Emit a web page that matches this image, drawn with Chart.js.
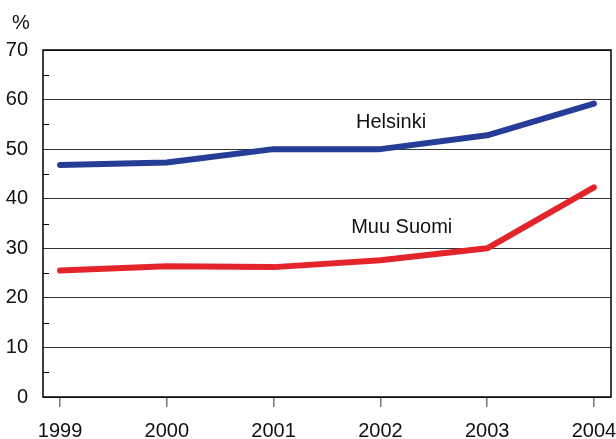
<!DOCTYPE html>
<html>
<head>
<meta charset="utf-8">
<script src="https://cdn.jsdelivr.net/npm/chart.js@4"></script>
<style>
  html, body { margin: 0; padding: 0; background: #fff; }
  #wrap { width: 616px; height: 439px; }
</style>
</head>
<body>
<div id="wrap"><canvas id="chart" width="616" height="439"></canvas></div>
<script>
const years = [1999, 2000, 2001, 2002, 2003, 2004];
const helsinki = [46.8, 47.3, 50.0, 50.0, 52.8, 59.2];
const muuSuomi = [25.5, 26.4, 26.2, 27.6, 30.0, 42.3];
const yTicks = [0, 10, 20, 30, 40, 50, 60, 70];
const minorTicks = [5, 15, 25, 35, 45, 55, 65];

const FONT = 'Liberation Sans, Arial, sans-serif';

// frame, minor ticks, series names and the % unit
const decorations = {
  id: 'decorations',
  afterDraw(chart) {
    const { ctx, chartArea: a, scales } = chart;
    ctx.save();
    ctx.strokeStyle = '#000';
    ctx.lineWidth = 1.5;
    ctx.strokeRect(a.left, a.top, a.right - a.left, a.bottom - a.top);

    ctx.lineWidth = 1;
    minorTicks.forEach(v => {
      const y = Math.round(scales.y.getPixelForValue(v)) + 0.5;
      ctx.beginPath();
      ctx.moveTo(a.left, y);
      ctx.lineTo(a.left + 6, y);
      ctx.stroke();
    });

    ctx.fillStyle = '#111';
    ctx.font = '20px ' + FONT;
    ctx.textAlign = 'center';
    ctx.textBaseline = 'middle';
    ctx.fillText('Helsinki', scales.x.getPixelForValue(2002.1), scales.y.getPixelForValue(55.4));
    ctx.fillText('Muu Suomi', scales.x.getPixelForValue(2002.2), scales.y.getPixelForValue(34.1));
    ctx.fillText('%', 21, 23);
    ctx.restore();
  }
};

new Chart(document.getElementById('chart'), {
  type: 'line',
  data: {
    datasets: [
      {
        label: 'Helsinki',
        data: years.map((y, i) => ({ x: y, y: helsinki[i] })),
        borderColor: '#253d97',
        borderWidth: 6,
        borderCapStyle: 'round',
        borderJoinStyle: 'round',
        pointRadius: 0,
        tension: 0
      },
      {
        label: 'Muu Suomi',
        data: years.map((y, i) => ({ x: y, y: muuSuomi[i] })),
        borderColor: '#e3242b',
        borderWidth: 6,
        borderCapStyle: 'round',
        borderJoinStyle: 'round',
        pointRadius: 0,
        tension: 0
      }
    ]
  },
  options: {
    responsive: false,
    animation: false,
    layout: { padding: { top: 50, right: 5, left: 0, bottom: 0 } },
    plugins: { legend: { display: false }, tooltip: { enabled: false } },
    scales: {
      x: {
        type: 'linear',
        min: 1998.84,
        max: 2004.16,
        afterBuildTicks: s => { s.ticks = years.map(v => ({ value: v })); },
        afterFit: s => { s.height = 42; s.paddingLeft = 0; s.paddingRight = 0; },
        border: { display: false },
        grid: { drawOnChartArea: false, drawTicks: true, tickLength: 10, color: '#777', lineWidth: 1.5 },
        ticks: { color: '#111', font: { family: FONT, size: 20 }, padding: 12, maxRotation: 0, callback: v => String(v) }
      },
      y: {
        min: 0,
        max: 70,
        afterBuildTicks: s => { s.ticks = yTicks.map(v => ({ value: v })); },
        afterFit: s => { s.width = 43; s.paddingTop = 0; s.paddingBottom = 0; },
        border: { display: false },
        grid: { drawTicks: false, color: '#333', lineWidth: 1 },
        ticks: { color: '#111', font: { family: FONT, size: 20 }, padding: 15 }
      }
    }
  },
  plugins: [decorations]
});
</script>
</body>
</html>
